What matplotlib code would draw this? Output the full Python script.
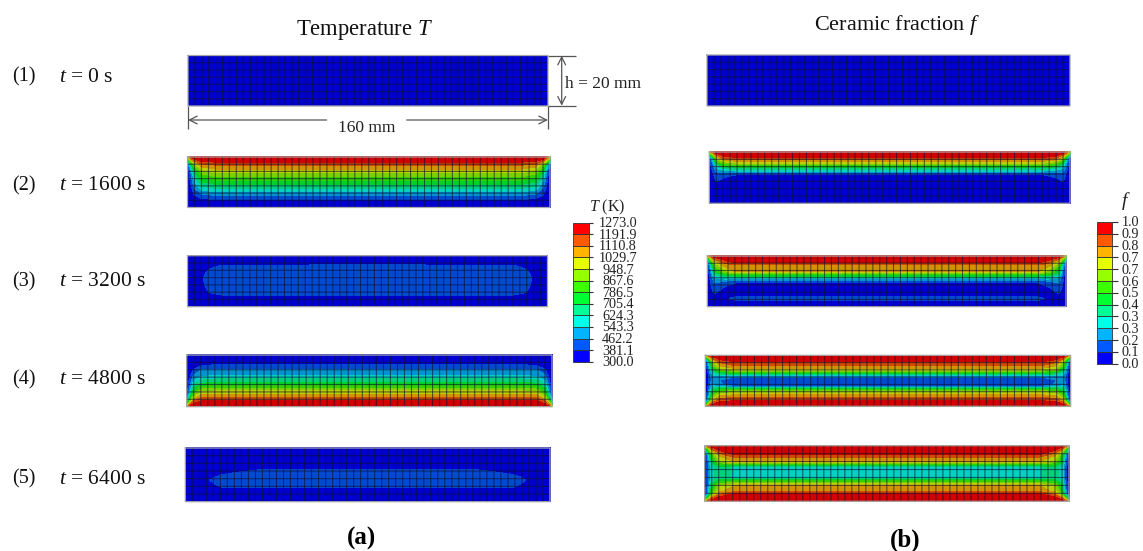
import numpy as np
import matplotlib
matplotlib.use('Agg')
import matplotlib.pyplot as plt
from matplotlib.colors import ListedColormap, BoundaryNorm

plt.rcParams['font.family'] = ['Liberation Serif', 'DejaVu Serif']
plt.rcParams['mathtext.fontset'] = 'custom'
plt.rcParams['mathtext.it'] = 'Liberation Serif:italic'
plt.rcParams['mathtext.rm'] = 'Liberation Serif'

# --- legend values ---
t_ticks = [300.0, 381.1, 462.2, 543.3, 624.3, 705.4, 786.5, 867.6, 948.7, 1029.7, 1110.8, 1191.9, 1273.0]
f_ticks = ['0.0', '0.1', '0.2', '0.3', '0.3', '0.4', '0.5', '0.6', '0.7', '0.7', '0.8', '0.9', '1.0']
f_levels = [0.0, 0.083, 0.167, 0.25, 0.333, 0.417, 0.5, 0.583, 0.667, 0.75, 0.833, 0.917, 1.0]
band_colors = ['#0000FF', '#005AFF', '#00B4FF', '#00FFEB', '#00FF96', '#00FF32',
               '#3CFF00', '#96FF00', '#E6FF00', '#FFB400', '#FF5A00', '#FF0000']
time_labels = ['$t$ = 0 s', '$t$ = 1600 s', '$t$ = 3200 s', '$t$ = 4800 s', '$t$ = 6400 s']

# --- fields: rows go down the plate, columns go from
# the plate edge (fraction of width) to mid span, mirrored for the right side
edge_x = [0, .008, .02, .04, .08, .5]

t2_depth = [0, .06, .15, .3, .45, .6, .75, .85, .92, 1]
t2_vals = [[900, 1150, 1273, 1273, 1273, 1273],
           [620, 950, 1150, 1230, 1240, 1240],
           [340, 600, 900, 1080, 1120, 1120],
           [300, 420, 700, 900, 960, 960],
           [300, 385, 560, 740, 800, 800],
           [300, 340, 470, 600, 640, 640],
           [300, 300, 385, 440, 470, 470],
           [300, 300, 300, 350, 370, 375],
           [300, 300, 300, 300, 300, 300],
           [300, 300, 300, 300, 300, 300]]

t3_x = [0, .03, .044, .06, .1, .5]
t3_depth = [0, .14, .22, .35, .45, .6, .72, .86, 1]
t3_vals = [[300, 300, 300, 300, 300, 300],
           [300, 300, 300, 300, 300, 300],
           [300, 300, 300, 340, 430, 440],
           [300, 300, 350, 430, 440, 440],
           [300, 300, 381, 440, 440, 440],
           [300, 300, 350, 430, 440, 440],
           [300, 300, 300, 380, 430, 440],
           [300, 300, 300, 300, 300, 300],
           [300, 300, 300, 300, 300, 300]]

t4_depth = [0, .1, .19, .3, .42, .52, .6, .7, .8, .9, 1]
t4_vals = [[300, 300, 300, 300, 300, 300],
           [300, 300, 300, 300, 315, 320],
           [300, 300, 310, 350, 381, 381],
           [300, 310, 400, 470, 480, 480],
           [300, 360, 480, 540, 560, 560],
           [300, 400, 560, 660, 690, 690],
           [300, 420, 640, 770, 800, 800],
           [300, 500, 760, 920, 950, 950],
           [310, 620, 920, 1060, 1080, 1080],
           [500, 850, 1120, 1200, 1210, 1210],
           [950, 1200, 1273, 1273, 1273, 1273]]

t5_x = [0, .05, .068, .1, .2, .5]
t5_depth = [0, .35, .45, .55, .6, .68, .82, 1]
t5_vals = [[300, 300, 300, 300, 300, 300],
           [300, 300, 300, 300, 300, 300],
           [300, 300, 300, 330, 430, 440],
           [300, 300, 350, 430, 440, 440],
           [300, 300, 381, 440, 440, 440],
           [300, 300, 340, 420, 440, 440],
           [300, 300, 300, 300, 300, 300],
           [300, 300, 300, 300, 300, 300]]

f2_depth = [0, .05, .1, .16, .22, .28, .35, .43, .55, .7, 1]
f2_vals = [[.6, .85, .97, 1, 1, 1],
           [.3, .6, .85, .96, .97, .97],
           [.05, .35, .72, .88, .92, .92],
           [.03, .2, .55, .72, .8, .8],
           [.03, .12, .42, .58, .65, .65],
           [.03, .1, .3, .42, .48, .48],
           [.03, .08, .2, .25, .3, .3],
           [.03, .06, .12, .11, .083, .083],
           [.03, .05, .09, .06, .05, .05],
           [.02, .03, .04, .03, .03, .03],
           [.02, .02, .02, .02, .02, .02]]

f3_x = [0, .008, .02, .05, .08, .5]
f3_depth = [0, .05, .13, .17, .31, .38, .47, .52, .6, .72, .78, .84, .9, 1]
f3_vals = [[.6, .85, .97, 1, 1, 1],
           [.25, .6, .85, .96, .97, .97],
           [.03, .35, .65, .85, .92, .92],
           [.03, .22, .6, .8, .83, .83],
           [.03, .12, .42, .62, .75, .75],
           [.03, .1, .3, .42, .45, .45],
           [.03, .08, .2, .2, .17, .17],
           [.03, .07, .17, .13, .083, .083],
           [.03, .06, .14, .08, .05, .05],
           [.03, .05, .09, .05, .05, .05],
           [.03, .04, .04, .05, .05, .05],
           [.03, .04, .04, .06, .12, .12],
           [.03, .04, .04, .05, .05, .05],
           [.03, .03, .03, .03, .03, .03]]

f4_depth = [0, .05, .12, .2, .27, .33, .38, .44, .5, .58, .62, .68, .75, .82, .9, .95, 1]
f4_vals = [[.6, .85, .97, 1, 1, 1],
           [.2, .55, .85, .96, .97, .97],
           [.03, .25, .65, .85, .92, .92],
           [.03, .15, .55, .75, .83, .83],
           [.03, .1, .4, .65, .72, .72],
           [.03, .08, .3, .45, .5, .5],
           [.03, .08, .25, .28, .27, .27],
           [.03, .08, .2, .18, .16, .16],
           [.03, .08, .2, .16, .12, .12],
           [.03, .08, .22, .18, .12, .12],
           [.03, .08, .28, .24, .17, .17],
           [.03, .1, .4, .5, .55, .55],
           [.03, .12, .5, .65, .7, .7],
           [.03, .18, .6, .78, .82, .82],
           [.03, .3, .75, .9, .92, .92],
           [.3, .6, .88, .96, .97, .97],
           [.6, .85, .97, 1, 1, 1]]

f5_depth = [0, .05, .15, .2, .28, .33, .38, .6, .65, .72, .82, .87, .95, 1]
f5_vals = [[.6, .85, .97, 1, 1, 1],
           [.2, .55, .85, .97, .98, .98],
           [.03, .2, .55, .8, .92, .92],
           [.03, .15, .5, .72, .83, .83],
           [.03, .12, .42, .65, .75, .75],
           [.03, .1, .35, .5, .55, .55],
           [.03, .09, .3, .38, .32, .32],
           [.03, .09, .3, .38, .32, .32],
           [.03, .1, .35, .5, .55, .55],
           [.03, .12, .42, .65, .75, .75],
           [.03, .15, .5, .72, .8, .8],
           [.03, .2, .55, .8, .92, .92],
           [.2, .55, .85, .97, .98, .98],
           [.6, .85, .97, 1, 1, 1]]

# --- layout, everything in image pixels ---
fig = plt.figure(figsize=(11.43, 5.51), dpi=100)
ax = fig.add_axes([0, 0, 1, 1])
ax.set_xlim(0, 1143)
ax.set_ylim(551, 0)
ax.axis('off')

dark_colors = [tuple(0.82 * c for c in matplotlib.colors.to_rgb(b)) for b in band_colors]
cmap = ListedColormap(dark_colors)
N_COLS, N_ROWS = 52, 7


def draw_plate(box, levels, xs=None, depth=None, vals=None):
    x0, x1, y0, y1 = box
    if vals is None:
        ax.fill_between([x0, x1], y0, y1, color=dark_colors[0], lw=0, zorder=1)
    else:
        vals = np.array(vals, dtype=float)
        frac = np.array(xs)
        full_x = np.concatenate([frac, 1 - frac[-2::-1]])
        full_v = np.hstack([vals, vals[:, -2::-1]])
        X = x0 + full_x * (x1 - x0)
        Y = y0 + np.array(depth) * (y1 - y0)
        cs = ax.contourf(X, Y, full_v, levels=levels, cmap=cmap,
                         norm=BoundaryNorm(levels, cmap.N), zorder=1)
        # close the hairline gaps between bands
        cs.set_edgecolor('face')
        cs.set_linewidth(0.4)
    # mesh
    v = ax.vlines(np.linspace(x0, x1, N_COLS + 1)[1:-1], y0, y1, color='#101030', lw=0.8, alpha=0.6, zorder=2)
    h = ax.hlines(np.linspace(y0, y1, N_ROWS + 1)[1:-1], x0, x1, color='#101030', lw=0.8, alpha=0.6, zorder=2)
    v.set_snap(False)
    h.set_snap(False)
    ax.plot([x0, x1, x1, x0, x0], [y0, y0, y1, y1, y0], color='#a8a8a8', lw=0.9, zorder=3, snap=False)


# left column
draw_plate((188, 548, 55.5, 106), t_ticks)
draw_plate((187.5, 550, 157, 207.5), t_ticks, edge_x, t2_depth, t2_vals)
draw_plate((187.5, 547.5, 255.7, 306.7), t_ticks, t3_x, t3_depth, t3_vals)
draw_plate((186.7, 552, 355, 406.7), t_ticks, edge_x, t4_depth, t4_vals)
draw_plate((185.3, 550, 448, 501.7), t_ticks, t5_x, t5_depth, t5_vals)

# right column
draw_plate((707, 1070, 55, 106), f_levels)
draw_plate((709.3, 1070, 152, 203.3), f_levels, edge_x, f2_depth, f2_vals)
draw_plate((707.3, 1066, 256, 306.7), f_levels, f3_x, f3_depth, f3_vals)
draw_plate((705.3, 1070.7, 355.3, 406.3), f_levels, edge_x, f4_depth, f4_vals)
draw_plate((704.7, 1069, 445.7, 501.3), f_levels, edge_x, f5_depth, f5_vals)


def draw_legend(x0, x1, y_top, y_bot, tick_end, labels, label_x, ha):
    ys = np.linspace(y_bot, y_top, 13)
    for i, col in enumerate(band_colors):
        ax.bar((x0 + x1) / 2, ys[i + 1] - ys[i], bottom=ys[i], width=x1 - x0,
               color=col, edgecolor='#333333', lw=0.6, zorder=2)
    ax.hlines(ys, x1, tick_end, color='#333333', lw=0.8)
    for y, lab in zip(ys, labels):
        ax.text(label_x, y + 1, lab, ha=ha, va='center', fontsize=10.2, color='#222222')


draw_legend(573.3, 589, 222.7, 361.7, 593, [f'{v:.1f}' for v in t_ticks], 618, 'center')
draw_legend(1096.7, 1112.3, 222, 363.7, 1118, f_ticks, 1122, 'left')
ax.text(607.7, 207, '$T$ (K)', ha='center', va='center', fontsize=11.5, color='#222222')
ax.text(1126, 201, '$f$', ha='center', va='center', fontsize=14, color='#222222')

# row labels
label_ys = [77, 186, 282, 380, 479]
for i, (y, lab) in enumerate(zip(label_ys, time_labels)):
    ax.text(12, y, f'({i + 1})', ha='left', va='center', fontsize=14.5, color='#111111')
    ax.text(59, y, lab, ha='left', va='center', fontsize=15.5, color='#111111')

ax.text(364.5, 30, 'Temperature $T$', ha='center', va='center', fontsize=16.3, color='#111111')
ax.text(897, 25, 'Ceramic fraction $f$', ha='center', va='center', fontsize=16, color='#111111')
ax.text(361, 538, '(a)', ha='center', va='center', fontsize=18, fontweight='bold')
ax.text(905, 540, '(b)', ha='center', va='center', fontsize=18, fontweight='bold')

# dimension marks on the first plate
dim_col = '#555555'
ax.hlines([55.7, 105.7], 548, 576, color=dim_col, lw=0.9)
ax.vlines([188, 548], 106, 129, color=dim_col, lw=0.9)
arrow = dict(arrowstyle='<->', color=dim_col, lw=0.9, shrinkA=0, shrinkB=0, mutation_scale=14)
ax.annotate('', xy=(561.7, 55.7), xytext=(561.7, 105.7), arrowprops=arrow)
ax.annotate('', xy=(188, 120), xytext=(326.7, 120), arrowprops=dict(arrow, arrowstyle='->'))
ax.annotate('', xy=(548, 120), xytext=(406.7, 120), arrowprops=dict(arrow, arrowstyle='->'))
ax.text(367, 128, '160 mm', ha='center', va='center', fontsize=12.5, color='#222222')
ax.text(565, 84.5, 'h = 20 mm', ha='left', va='center', fontsize=12.5, color='#222222')

fig.savefig('out.png', dpi=100)
